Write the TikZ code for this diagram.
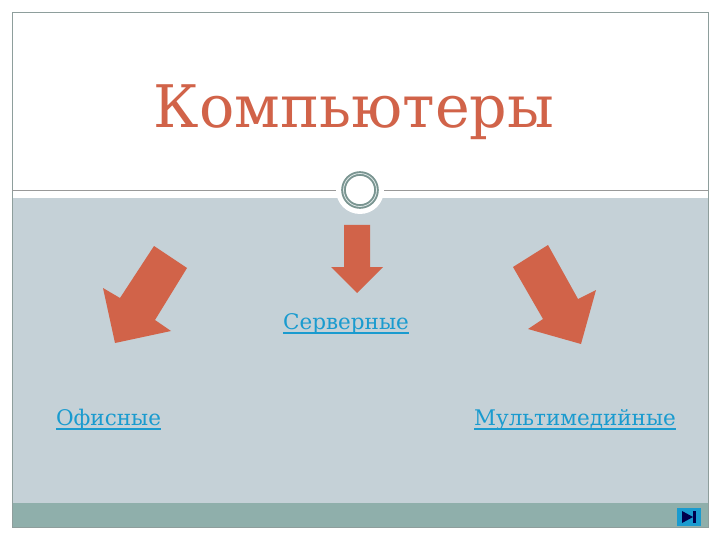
\documentclass[tikz,border=0pt]{standalone}
\usepackage{fontspec}
\setmainfont{DejaVu Serif}
\usetikzlibrary{positioning}
\newsavebox{\linkbox}
\newcommand{\linktext}[1]{\sbox{\linkbox}{#1}\usebox{\linkbox}\llap{\rule[-4.5pt]{\wd\linkbox}{1.1pt}}}
\definecolor{bandgray}{HTML}{C5D1D7}
\definecolor{footgreen}{HTML}{8FAFAB}
\definecolor{framegray}{HTML}{8E9E9C}
\definecolor{arrowred}{HTML}{D16349}
\definecolor{linkblue}{HTML}{1A9BCF}
\begin{document}
\begin{tikzpicture}[%
		x=1pt,
		y=-1pt,
		bigarrow/.style={%
			fill=arrowred,
			draw=none
		},
		linkname/.style={%
			text=linkblue,
			font=\fontsize{21.5}{24}\selectfont,
			anchor=base,
			inner sep=0pt
		}
		]
		\useasboundingbox (0,0) rectangle (720,540);
		\fill[white] (0,0) rectangle (720,540);
		\fill[bandgray] (12,198) rectangle (708,503);
		\fill[footgreen] (12,503) rectangle (708,527);
		\draw[framegray,line width=0.8pt] (12,12) rectangle (708,527);
		
		\draw[gray!80,line width=0.8pt] (12,190.5) -- (708,190.5);
		\fill[white] (360,190) circle (24);
		\draw[footgreen!85!black,line width=4.6pt] (360,190) circle (16.5);
		\draw[white!70!footgreen,line width=0.8pt] (360,190) circle (16.5);
		
		\node[text=arrowred,font=\fontsize{58.7}{62}\selectfont,anchor=base,inner sep=0pt] (title) at (354,128) {Компьютеры};
		\node[linkname] (server) at (346,329) {\linktext{Серверные}};
		\node[linkname] (office) at (108.5,425) {\linktext{Офисные}};
		\node[linkname] (media) at (575,425) {\linktext{Мультимедийные}};
		
		\fill[bigarrow] (154,246) -- (187,268) -- (155,320) -- (171,331) -- (115,343) -- (103,288) -- (120,298) -- cycle;
		\fill[bigarrow] (344,225) -- (370,225) -- (370,267) -- (383,267) -- (357,293) -- (331,267) -- (344,267) -- cycle;
		\fill[bigarrow] (548,245) -- (513,267) -- (543,319) -- (528,329) -- (581,344) -- (596,290) -- (578,299) -- cycle;
		
		\fill[linkblue] (677,508) rectangle (701,526);
		\fill[black!70!blue] (682,511) -- (693,517) -- (682,523) -- cycle;
		\fill[black!70!blue] (693,511) rectangle (696,523);
		\end{tikzpicture}
\end{document}
